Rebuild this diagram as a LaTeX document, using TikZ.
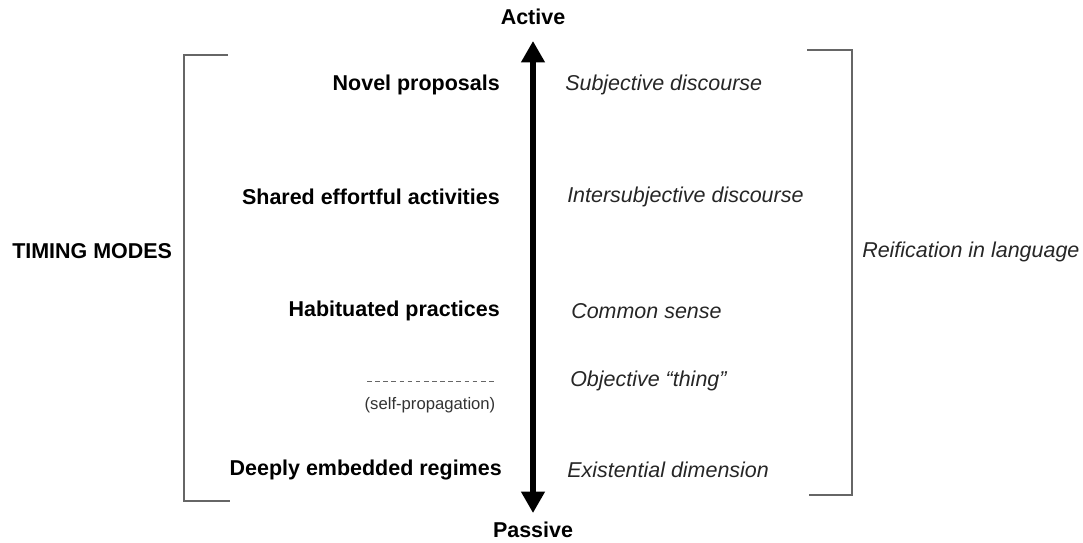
\documentclass[tikz,border=0pt]{standalone}
\usepackage{fontspec}
\setmainfont{Liberation Sans}
\usetikzlibrary{arrows.meta}
\begin{document}
\begin{tikzpicture}[x=0.75pt,y=-0.75pt,
  lbl/.style={font=\fontsize{16.1}{18}\selectfont\bfseries,inner sep=0pt},
  rlbl/.style={font=\fontsize{16.1}{18}\selectfont\itshape,text=black!85,inner sep=0pt,anchor=west},
  small/.style={font=\fontsize{12.5}{14}\selectfont,text=black!80,inner sep=0pt},
  brk/.style={draw=black!60,line width=1.1pt},
  axis/.style={line width=3.8pt,{Triangle[length=16pt,width=17pt]}-{Triangle[length=16pt,width=17pt]}}]
\useasboundingbox (0,0) rectangle (1083,543);
\node[lbl] (act) at (533,17) {Active};
\node[lbl] (pas) at (533,530) {Passive};
\coordinate (atop) at (533,41);
\coordinate (abot) at (533,513);
\draw[axis] (atop) -- (abot);
% left labels
\node[lbl,anchor=east] (l1) at (500,85) {Novel proposals};
\node[lbl,anchor=east] (l2) at (500,197) {Shared effortful activities};
\node[lbl,anchor=east] (l3) at (500,311) {Habituated practices};
\coordinate (d1) at (367,381);
\coordinate (d2) at (494,381);
\draw[black!60,line width=0.6pt,dash pattern=on 3.5pt off 2.6pt] (d1) -- (d2);
\node[small] (sp) at (430,405) {(self-propagation)};
\node[lbl,anchor=east] (l4) at (502,470) {Deeply embedded regimes};
% right labels
\node[rlbl] (r1) at (565,85) {Subjective discourse};
\node[rlbl] (r2) at (567,197) {Intersubjective discourse};
\node[rlbl] (r3) at (571,311) {Common sense};
\node[rlbl] (r4) at (570,381) {Objective “thing”};
\node[rlbl] (r5) at (567,470) {Existential dimension};
% brackets
\coordinate (lb1) at (228,55);
\coordinate (lb2) at (184,55);
\coordinate (lb3) at (184,501);
\coordinate (lb4) at (230,501);
\draw[brk] (lb1) -- (lb2) -- (lb3) -- (lb4);
\coordinate (rb1) at (807,50);
\coordinate (rb2) at (852,50);
\coordinate (rb3) at (852,495);
\coordinate (rb4) at (809,495);
\draw[brk] (rb1) -- (rb2) -- (rb3) -- (rb4);
\node[lbl,anchor=west] (tm) at (12,251) {TIMING MODES};
\node[rlbl] (ri) at (862,252) {Reification in language};
\end{tikzpicture}
\end{document}
